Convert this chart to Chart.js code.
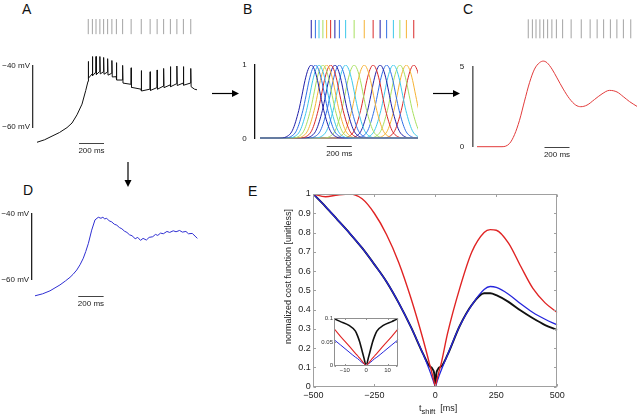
<!DOCTYPE html>
<html>
<head>
<meta charset="utf-8">
<title>Spike train cost function</title>
<script src="https://cdn.jsdelivr.net/npm/chart.js@4.4.1/dist/chart.umd.min.js"></script>
<style>
  html, body { margin: 0; padding: 0; background: #fff; }
  body { position: relative; width: 638px; height: 414px; overflow: hidden;
         font-family: "Liberation Sans", Arial, sans-serif; color: #111; }
  canvas, .txt, svg { position: absolute; }
  .panel { font-size: 14px; line-height: 14px; }
  .axt { font-size: 9px; color: #222; white-space: nowrap; }
</style>
</head>
<body>
<div class="txt panel" style="left:22px;top:1.5px">A</div>
<div class="txt panel" style="left:243px;top:1.5px">B</div>
<div class="txt panel" style="left:463px;top:1.5px">C</div>
<div class="txt panel" style="left:23px;top:183px">D</div>
<div class="txt panel" style="left:248px;top:184px">E</div>

<canvas id="chartA" width="205" height="145" style="left:0;top:15px"></canvas>
<canvas id="chartB" width="225" height="145" style="left:205px;top:15px"></canvas>
<canvas id="chartC" width="208" height="150" style="left:430px;top:15px"></canvas>
<canvas id="chartD" width="205" height="130" style="left:0;top:185px"></canvas>
<canvas id="chartE" width="320" height="229" style="left:250px;top:185px"></canvas>
<canvas id="chartInset" width="84" height="62" style="left:318px;top:312px"></canvas>

<div class="txt axt" style="left:213px;top:270.5px;width:150px;height:11px;line-height:11px;text-align:center;transform:rotate(-90deg)">normalized cost function [unitless]</div>
<div class="txt axt" style="left:419px;top:403px;line-height:10px">t<sub style="font-size:7.5px;vertical-align:-3px;line-height:0">shift</sub>&nbsp;&nbsp;[ms]</div>

<svg width="638" height="414" style="left:0;top:0;pointer-events:none">
  <g stroke="#000" stroke-width="1.2" fill="#000">
    <line x1="212" y1="93.5" x2="233" y2="93.5"/>
    <polygon points="232,90 239,93.5 232,97" stroke="none"/>
    <line x1="433" y1="93.5" x2="454" y2="93.5"/>
    <polygon points="453,90 460,93.5 453,97" stroke="none"/>
    <line x1="128" y1="162" x2="128" y2="181"/>
    <polygon points="124.5,180 131.5,180 128,187" stroke="none"/>
  </g>
</svg>

<script>
// spike times (ms), shared by the rasters in A, B and C
const spikeTimes = [410, 443, 472, 503, 533, 565, 599, 635, 685, 753, 834, 905, 961, 1013, 1067, 1119, 1171, 1230];

// A: recorded membrane potential [ms, mV]
const aTrace = [
  [0, -65.0], [60, -64.2], [120, -63.0], [180, -61.8], [240, -60.2], [280, -58.7], [320, -56.0], [360, -52.5], [390, -48.0], [408, -45.0],
  [410, -38.5], [413, -44.0],
  [441, -42.6], [443, -36.9], [446, -43.2],
  [470, -42.0], [472, -36.9], [475, -42.8],
  [501, -41.8], [503, -36.9], [506, -42.6],
  [531, -41.9], [533, -37.2], [536, -42.7],
  [563, -42.0], [565, -37.6], [568, -43.0],
  [597, -42.4], [599, -38.2], [602, -43.6],
  [633, -43.5], [635, -38.9], [638, -44.6],
  [683, -44.6], [685, -39.8], [688, -45.6],
  [751, -46.0], [753, -40.6], [756, -47.0],
  [832, -47.6], [834, -41.5], [837, -48.2],
  [903, -47.6], [905, -41.9], [908, -48.0],
  [959, -47.1], [961, -41.3], [964, -47.6],
  [1011, -46.6], [1013, -40.8], [1016, -47.1],
  [1065, -46.2], [1067, -40.2], [1070, -46.8],
  [1117, -45.8], [1119, -40.0], [1122, -46.4],
  [1169, -45.6], [1171, -40.2], [1174, -46.3],
  [1228, -45.6], [1230, -40.8], [1233, -46.8],
  [1260, -47.6], [1280, -47.8]
];

// B: kernel profile around each spike
const kernelOffsets = [-260, -200, -150, -100, -75, -50, -25, 0, 25, 50, 75, 100, 150, 200, 260];
const kernelHeights = [0, 0.02, 0.11, 0.38, 0.58, 0.79, 0.94, 1, 0.94, 0.79, 0.58, 0.38, 0.11, 0.02, 0];

// C: summed kernel response
const cTimes  = [0, 200, 260, 300, 340, 380, 420, 460, 500, 530, 560, 600, 640, 690, 740, 790, 830, 880, 940, 1000, 1060, 1120, 1170, 1220, 1280];
const cValues = [0, 0, 0.2, 0.75, 1.65, 2.85, 4.0, 4.85, 5.25, 5.35, 5.25, 4.85, 4.3, 3.6, 3.0, 2.6, 2.5, 2.6, 2.95, 3.3, 3.52, 3.42, 3.13, 2.82, 2.52];

// D: model membrane potential [ms, mV]
const dTrace = [
  [0, -65.0], [60, -64.4], [118, -63.5], [197, -61.7], [240, -60.5], [276, -59.4], [300, -58.5], [329, -57.2], [355, -55.6], [381, -53.6],
  [400, -51.6], [421, -49.1], [447, -45.1], [473, -42.0], [499, -41.2], [520, -41.5], [535, -41.2], [550, -41.7], [565, -41.5], [585, -42.3],
  [605, -42.6], [625, -43.3], [645, -43.6], [665, -44.3], [685, -44.7], [705, -45.4], [725, -45.8], [745, -46.5], [765, -46.8], [790, -47.7],
  [810, -47.3], [832, -48.2], [852, -47.6], [878, -48.1], [900, -47.3], [928, -47.1], [950, -46.4], [968, -46.7], [990, -46.0], [1012, -46.2],
  [1040, -45.5], [1062, -45.8], [1090, -45.3], [1112, -45.6], [1140, -45.2], [1162, -45.7], [1190, -45.5], [1210, -46.2], [1240, -46.1],
  [1262, -46.9], [1280, -47.6]
];

// E: normalized cost vs time shift
const eTimes = [-500, -450, -400, -350, -300, -250, -200, -150, -100, -50, -25, -15, -12, -8, -5, -4, -3, -2, -1, 0,
                1, 2, 3, 4, 5, 8, 12, 15, 25, 50, 100, 150, 200, 225, 250, 300, 350, 400, 450, 500];
const eRed = [1.0, 0.986, 0.995, 1.0, 0.975, 0.9, 0.79, 0.645, 0.46, 0.245, 0.125, 0.078, 0.062, 0.042, 0.026, 0.021, 0.016, 0.010, 0.005, 0,
              0.005, 0.010, 0.016, 0.021, 0.026, 0.042, 0.062, 0.078, 0.125, 0.275, 0.51, 0.70, 0.80, 0.815, 0.812, 0.745, 0.625, 0.51, 0.435, 0.385];
const eBlue = [1.0, 0.935, 0.865, 0.795, 0.72, 0.635, 0.545, 0.435, 0.31, 0.17, 0.09, 0.055, 0.044, 0.029, 0.018, 0.015, 0.011, 0.007, 0.004, 0,
               0.004, 0.007, 0.011, 0.015, 0.018, 0.029, 0.044, 0.055, 0.088, 0.165, 0.315, 0.425, 0.505, 0.52, 0.515, 0.48, 0.43, 0.385, 0.35, 0.32];
const eBlack = [1.0, 0.935, 0.865, 0.795, 0.72, 0.635, 0.545, 0.435, 0.31, 0.17, 0.108, 0.099, 0.093, 0.085, 0.073, 0.063, 0.05, 0.033, 0.016, 0,
                0.016, 0.033, 0.05, 0.063, 0.073, 0.085, 0.093, 0.099, 0.105, 0.165, 0.315, 0.425, 0.485, 0.485, 0.475, 0.44, 0.395, 0.355, 0.32, 0.295];

const eXTicks = [-500, -250, 0, 250, 500];
const eYTicks = [0, 0.1, 0.2, 0.3, 0.4, 0.5, 0.6, 0.7, 0.8, 0.9, 1];
const insetXTicks = [-10, 0, 10];
const insetYTicks = [0, 0.05, 0.1];

const JET = ['#1f1fa8', '#2f6fe6', '#3cc8ea', '#a8e060', '#f5b335', '#d92828'];
const RASTER_GRAY = '#a3a3a3';
const BAR_MS = 200;

Chart.defaults.font.family = '"Liberation Sans", Arial, sans-serif';
Chart.defaults.color = '#222';
Chart.defaults.animation = false;
Chart.defaults.events = [];
Chart.defaults.responsive = false;
Chart.defaults.devicePixelRatio = 1;
Chart.defaults.plugins.legend.display = false;
Chart.defaults.plugins.tooltip.enabled = false;
Chart.defaults.elements.point.radius = 0;
Chart.defaults.elements.line.borderWidth = 1;

const minus = v => String(v).replace('-', '\u2212');
const mv = v => minus(v) + ' mV';
const pairs = arr => arr.map(p => ({ x: p[0], y: p[1] }));
const series = vals => eTimes.map((t, i) => ({ x: t, y: vals[i] }));
const fixTicks = list => s => { s.ticks = list.map(v => ({ value: v })); };
const noGrid = { display: false, drawTicks: false };

// "200 ms" time bar under a trace
const scaleBar = {
  id: 'scaleBar',
  afterDraw(chart, args, opts) {
    const { ctx, chartArea, scales } = chart;
    const x0 = scales.x.getPixelForValue(opts.start);
    const x1 = scales.x.getPixelForValue(opts.start + BAR_MS);
    const y = Math.round(chartArea.bottom + opts.offset) + 0.5;
    ctx.save();
    ctx.strokeStyle = '#444';
    ctx.lineWidth = 1;
    ctx.beginPath();
    ctx.moveTo(x0, y);
    ctx.lineTo(x1, y);
    ctx.stroke();
    ctx.fillStyle = '#222';
    ctx.font = '8px "Liberation Sans", Arial, sans-serif';
    ctx.textAlign = 'center';
    ctx.textBaseline = 'alphabetic';
    ctx.fillText(BAR_MS + ' ms', (x0 + x1) / 2, y + 9.5);
    ctx.restore();
  }
};

// matlab-like box with inward ticks
const matlabBox = {
  id: 'matlabBox',
  beforeDatasetsDraw(chart, args, opts) {
    if (!opts.fill) return;
    const a = chart.chartArea;
    chart.ctx.save();
    chart.ctx.fillStyle = opts.fill;
    chart.ctx.fillRect(a.left, a.top, a.right - a.left, a.bottom - a.top);
    chart.ctx.restore();
  },
  afterDraw(chart, args, opts) {
    const { ctx, chartArea: a, scales: { x, y } } = chart;
    const L = opts.tick;
    const l = Math.round(a.left) + 0.5, r = Math.round(a.right) - 0.5;
    const t = Math.round(a.top) + 0.5, b = Math.round(a.bottom) - 0.5;
    ctx.save();
    ctx.strokeStyle = opts.color;
    ctx.lineWidth = 1;
    ctx.strokeRect(l, t, r - l, b - t);
    ctx.beginPath();
    x.ticks.forEach(k => {
      const px = Math.round(x.getPixelForValue(k.value)) + 0.5;
      ctx.moveTo(px, b); ctx.lineTo(px, b - L);
      ctx.moveTo(px, t); ctx.lineTo(px, t + L);
    });
    y.ticks.forEach(k => {
      const py = Math.round(y.getPixelForValue(k.value)) + 0.5;
      ctx.moveTo(l, py); ctx.lineTo(l + L, py);
      ctx.moveTo(r, py); ctx.lineTo(r - L, py);
    });
    ctx.stroke();
    ctx.restore();
  }
};

function barAxis(min, max, width, pad, color, label, lineWidth) {
  return {
    min, max,
    afterFit: s => { s.width = width; },
    afterBuildTicks: fixTicks([min, max]),
    grid: noGrid,
    border: { color, width: lineWidth || 1.3 },
    ticks: { padding: pad, font: { size: 8 }, color: '#222', callback: label }
  };
}

// spike raster: one short vertical segment per spike, drawn above the trace
function raster(lo, hi, colorOf) {
  const data = [];
  spikeTimes.forEach(t => data.push({ x: t, y: lo }, { x: t, y: hi }, { x: t, y: null }));
  return {
    data,
    borderColor: colorOf(0),
    borderWidth: 1,
    spanGaps: false,
    clip: false,
    segment: { borderColor: c => colorOf(Math.floor(c.p0DataIndex / 3)) }
  };
}

// A
new Chart(document.getElementById('chartA'), {
  type: 'line',
  data: {
    datasets: [
      { data: pairs(aTrace), borderColor: '#111', clip: false },
      raster(-29.56, -24.6, () => RASTER_GRAY)
    ]
  },
  options: {
    layout: { padding: { top: 51, right: 8, bottom: 33, left: 0 } },
    scales: {
      x: { type: 'linear', display: false, min: -32, max: 1280 },
      y: barAxis(-60, -40, 33, 3, '#333', mv)
    },
    plugins: { scaleBar: { start: 336, offset: 16.3 } }
  },
  plugins: [scaleBar]
});

// B
const bCurves = spikeTimes.map((t, i) => ({
  data: [{ x: 0, y: 0 }, ...kernelOffsets.map((o, k) => ({ x: t + o, y: kernelHeights[k] })), { x: 1500, y: 0 }],
  borderColor: JET[i % JET.length],
  cubicInterpolationMode: 'monotone'
}));

new Chart(document.getElementById('chartB'), {
  type: 'line',
  data: {
    datasets: [...bCurves, raster(1.364, 1.614, i => JET[i % JET.length])]
  },
  options: {
    layout: { padding: { top: 50, right: 12, bottom: 21.7, left: 0 } },
    scales: {
      x: { type: 'linear', display: false, min: -45.6, max: 1264 },
      y: barAxis(0, 1, 49.3, 7.5, '#111', v => String(v))
    },
    plugins: { scaleBar: { start: 534, offset: 7.4 } }
  },
  plugins: [scaleBar]
});

// C
new Chart(document.getElementById('chartC'), {
  type: 'line',
  data: {
    datasets: [
      { data: cTimes.map((t, i) => ({ x: t, y: cValues[i] })), borderColor: '#e23b3b', cubicInterpolationMode: 'monotone', clip: false },
      raster(6.775, 7.96, () => RASTER_GRAY)
    ]
  },
  options: {
    layout: { padding: { top: 51.7, right: 1, bottom: 18.3, left: 0 } },
    scales: {
      x: { type: 'linear', display: false, min: -37.6, max: 1280 },
      y: barAxis(0, 5, 42.3, 8, '#666', v => String(v), 1.6)
    },
    plugins: { scaleBar: { start: 540, offset: 0 } }
  },
  plugins: [scaleBar]
});

// D
new Chart(document.getElementById('chartD'), {
  type: 'line',
  data: {
    datasets: [{ data: pairs(dTrace), borderColor: '#2f2fd2', clip: false }]
  },
  options: {
    layout: { padding: { top: 28.3, right: 5, bottom: 35.7, left: 0 } },
    scales: {
      x: { type: 'linear', display: false, min: -26, max: 1301 },
      y: barAxis(-60, -40, 31.7, 2.5, '#222', mv)
    },
    plugins: { scaleBar: { start: 341, offset: 16.7 } }
  },
  plugins: [scaleBar]
});

// E (first dataset is drawn on top; blue over a wider black gives the navy overlap)
function costDatasets(width) {
  return [
    { data: series(eRed), borderColor: '#e02424', borderWidth: width, cubicInterpolationMode: 'monotone' },
    { data: series(eBlue), borderColor: '#2626dc', borderWidth: width - 0.1, cubicInterpolationMode: 'monotone' },
    { data: series(eBlack), borderColor: '#111', borderWidth: width + 0.5, cubicInterpolationMode: 'monotone' }
  ];
}

new Chart(document.getElementById('chartE'), {
  type: 'line',
  data: { datasets: costDatasets(1.4) },
  options: {
    layout: { padding: { top: 9, right: 12.7, bottom: 0, left: 0 } },
    scales: {
      x: {
        type: 'linear', min: -500, max: 500,
        afterBuildTicks: fixTicks(eXTicks),
        afterFit: s => { s.height = 27.3; },
        grid: noGrid, border: { display: false },
        ticks: { padding: 3, maxRotation: 0, autoSkip: false, callback: minus, font: { size: 9 }, color: '#222' }
      },
      y: {
        min: 0, max: 1,
        afterBuildTicks: fixTicks(eYTicks),
        afterFit: s => { s.width = 63.3; },
        grid: noGrid, border: { display: false },
        ticks: { padding: 2.5, autoSkip: false, callback: v => String(+v.toFixed(2)), font: { size: 9 }, color: '#222' }
      }
    },
    plugins: { matlabBox: { color: '#a0a0a0', tick: 2.5 } }
  },
  plugins: [matlabBox]
});

// E inset: zoom around zero shift
new Chart(document.getElementById('chartInset'), {
  type: 'line',
  data: { datasets: costDatasets(1.1) },
  options: {
    layout: { padding: { top: 6.3, right: 3.7, bottom: 0, left: 0 } },
    scales: {
      x: {
        type: 'linear', min: -15, max: 15,
        afterBuildTicks: fixTicks(insetXTicks),
        afterFit: s => { s.height = 8.3; },
        grid: noGrid, border: { display: false },
        ticks: { padding: 1, maxRotation: 0, autoSkip: false, callback: minus, font: { size: 6 }, color: '#333' }
      },
      y: {
        min: 0, max: 0.1,
        afterBuildTicks: fixTicks(insetYTicks),
        afterFit: s => { s.width = 16; },
        grid: noGrid, border: { display: false },
        ticks: { padding: 1, autoSkip: false, callback: v => String(+v.toFixed(2)), font: { size: 6 }, color: '#333' }
      }
    },
    plugins: { matlabBox: { color: '#909090', tick: 1.5, fill: '#fff' } }
  },
  plugins: [matlabBox]
});
</script>
</body>
</html>
